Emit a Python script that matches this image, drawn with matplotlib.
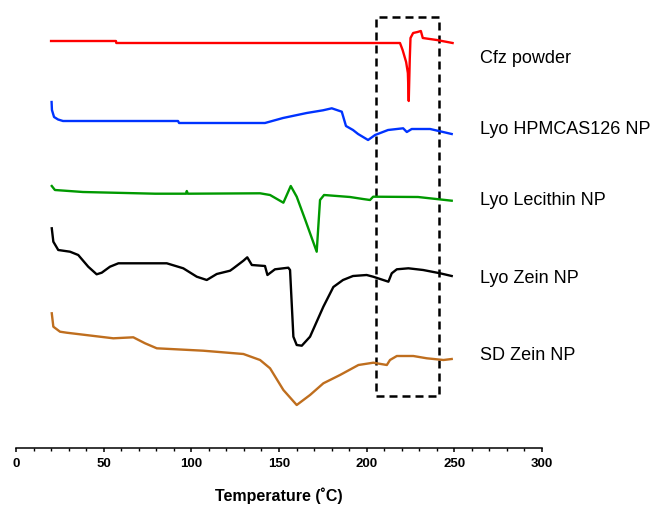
import matplotlib
matplotlib.use("Agg")
import matplotlib.pyplot as plt
from matplotlib.patches import Rectangle
from matplotlib.ticker import MultipleLocator

plt.rcParams['font.family'] = ['Liberation Sans', 'DejaVu Sans']

# DSC thermograms, heat flow in arbitrary units (curves stacked, endo down)
cfz_t = [20, 57, 57.2, 219, 220.5, 222.5, 223.5, 224, 224.6, 225, 226.5, 229, 230.9, 232, 240, 249]
cfz_v = [407, 407, 405, 405, 398, 386, 375, 347, 390, 410, 415, 416, 417, 410, 408, 405]

hpm_t = [20.3, 20.5, 21.7, 24, 26.8, 92.4, 93, 142, 152.3, 165.8, 175.1, 180.1, 185.8, 188.2,
         192.2, 195.1, 200.8, 204.8, 212.2, 220.8, 222.9, 225.7, 236.2, 248.5]
hpm_v = [346, 338, 331, 328.5, 327, 327, 325, 325, 330, 335, 337.7, 339.7, 336.3, 322,
         318, 314, 308, 313, 318, 319.7, 316, 319, 319, 314]

lec_t = [20.4, 22.2, 38.2, 79.3, 97, 97.4, 98, 139.2, 144.9, 152.5, 156.7, 160.1, 165,
         171.5, 173.4, 175.7, 190.5, 197.9, 201.9, 203.7, 229.3, 248.5]
lec_v = [262, 258, 256, 254.3, 254.3, 257, 254.3, 254.7, 253, 245.3, 262, 251.3, 228,
         196.3, 248, 253, 251, 249, 248, 251.3, 251, 247.3]

zein_t = [20.4, 21.3, 24.1, 30.8, 35.5, 41.2, 46, 48.9, 53.6, 58.4, 86, 95.4, 103.1, 108.8,
          114.5, 122.1, 124, 129.7, 131.9, 134.5, 142, 143.4, 147.7, 155.3, 156.3, 158.2,
          160.1, 163, 167.7, 175.3, 181, 186.5, 192.2, 200, 203.7, 212.4, 214.3, 217.2,
          223.8, 232.2, 241.9, 248.5]
zein_v = [219.7, 206.3, 198, 196.3, 193, 181.3, 173.7, 175.3, 181.3, 184.7, 184.7, 179.7, 171.3, 168,
          174, 177.3, 179.7, 187.3, 190.7, 183, 182, 173, 178.7, 180.3, 178, 111.3,
          103, 102.3, 111.3, 141.3, 161, 168, 172, 173, 171.3, 166.3, 174.7, 178.7,
          179.7, 178, 174.7, 172]

sd_t = [20.4, 21.3, 25.1, 28.9, 55.5, 66.9, 73.6, 80.3, 106.8, 129.7, 139.2, 144.9, 152.5,
        160.1, 167.7, 175.3, 184.8, 195.3, 203.8, 211.5, 213.3, 217.2, 226.6, 234.3, 243.8, 248.5]
sd_v = [134.7, 121.3, 116.3, 115.3, 109.7, 110.7, 104.7, 99.7, 97.3, 94, 88, 79.7, 58,
        43, 53, 64.7, 73, 83, 85.3, 83, 88, 92, 92, 89.7, 88, 89]

names = ['Cfz powder', 'Lyo HPMCAS126 NP', 'Lyo Lecithin NP', 'Lyo Zein NP', 'SD Zein NP']
label_v = [389.7, 318, 247.3, 169.7, 93]
colors = ['#ff0000', '#0033ff', '#009900', '#000000', '#bf6e1e']

# region of interest (melting of Cfz)
box_t = (205.3, 241.5)
box_v = (51.6, 431)

fig = plt.figure(figsize=(6.55, 5.05), dpi=100)
ax = fig.add_axes([16 / 655, 57 / 505, 526 / 655, 438 / 505])

curves = [(cfz_t, cfz_v), (hpm_t, hpm_v), (lec_t, lec_v), (zein_t, zein_v), (sd_t, sd_v)]
for (t, v), c in zip(curves, colors):
    ax.plot(t, v, color=c, lw=1.7, solid_joinstyle='round')

for name, v in zip(names, label_v):
    ax.text(264.5, v, name, ha='left', va='center', fontsize=13, clip_on=False)

ax.add_patch(Rectangle((box_t[0], box_v[0]), box_t[1] - box_t[0], box_v[1] - box_v[0],
                       fill=False, ec='black', lw=1.8, ls=(0, (3.2, 2.0))))

ax.set_xlim(0, 300)
ax.set_ylim(0, 438)
ax.xaxis.set_major_locator(MultipleLocator(50))
ax.xaxis.set_minor_locator(MultipleLocator(10))
ax.tick_params(axis='x', which='major', length=3, width=1.1, labelsize=9.5, pad=4)
ax.tick_params(axis='x', which='minor', length=2, width=1.0)
for lab in ax.get_xticklabels():
    lab.set_fontweight('bold')
ax.set_yticks([])
for s in ['left', 'right', 'top']:
    ax.spines[s].set_visible(False)
ax.spines['bottom'].set_linewidth(1.1)
ax.set_xlabel('Temperature (˚C)', fontsize=11.5, fontweight='bold', labelpad=13)

fig.savefig('out.png', dpi=100)
